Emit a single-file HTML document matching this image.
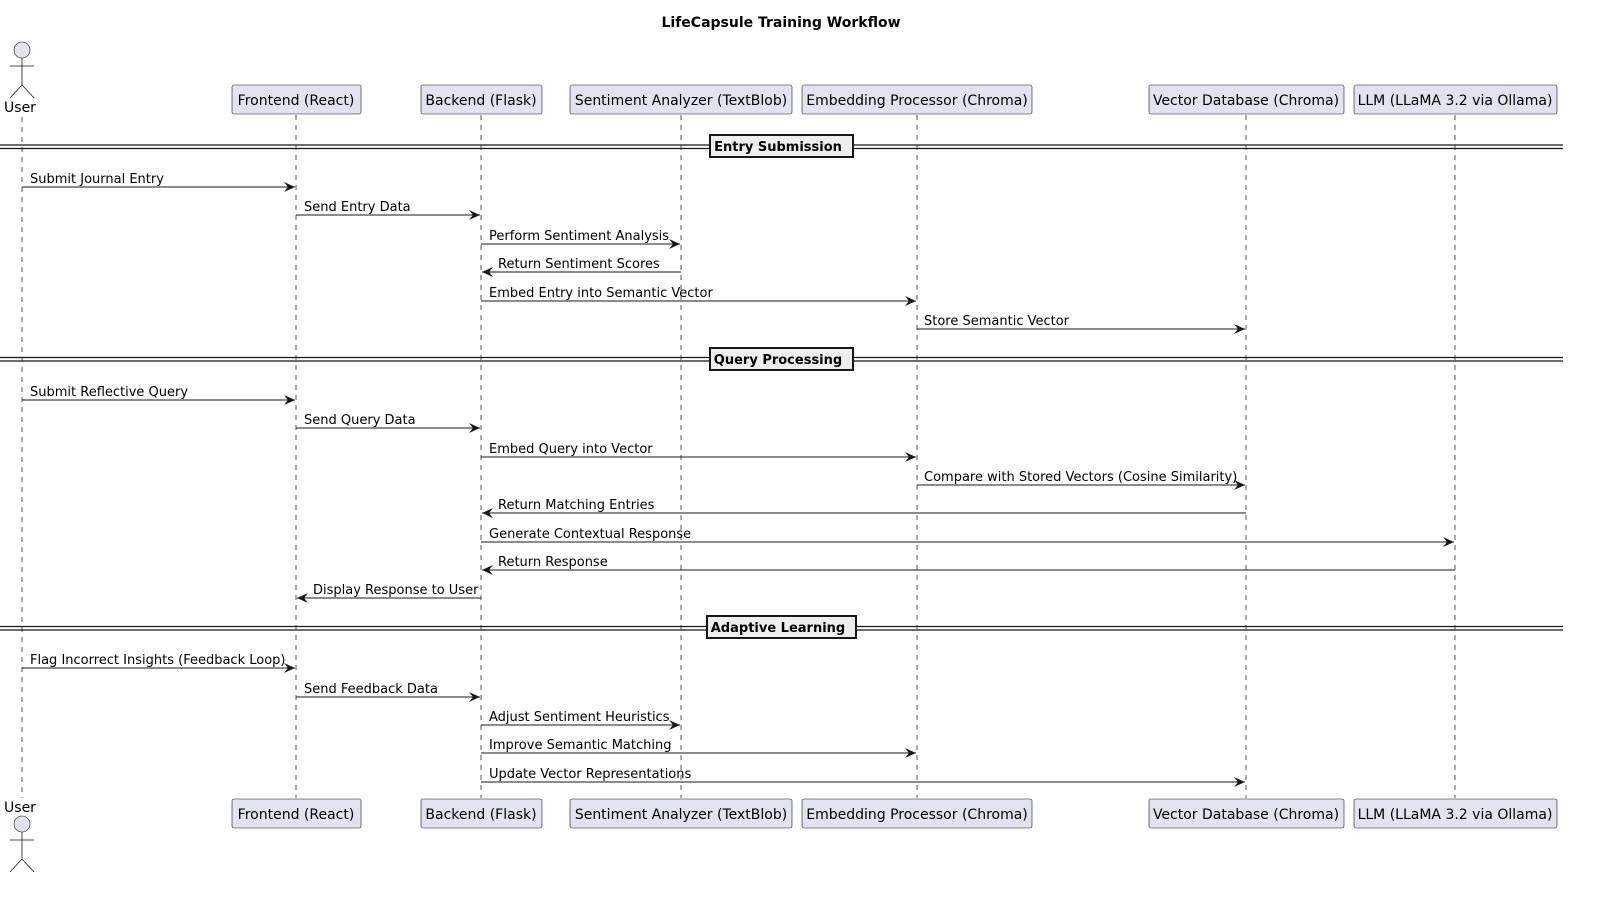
<!DOCTYPE html>
<html><head><meta charset="utf-8"><style>body{margin:0;background:#fff}svg{display:block}text{font-family:"DejaVu Sans","Liberation Sans",sans-serif}</style></head><body>
<svg width="1611" height="901" viewBox="0 0 1611 901" xmlns="http://www.w3.org/2000/svg">
<defs><marker id="a" viewBox="0 0 12 10" refX="11" refY="5" markerWidth="12" markerHeight="10" markerUnits="userSpaceOnUse" orient="auto"><path d="M0,0 L11,5 L0,10 L4,5 Z" fill="#181818"/></marker></defs>
<text x="781" y="27" text-anchor="middle" font-size="14" font-weight="bold" fill="#000">LifeCapsule Training Workflow</text>
<g stroke="#555" stroke-dasharray="5,5" stroke-width="1">
<line x1="22" y1="117" x2="22" y2="798"/><line x1="296" y1="115" x2="296" y2="798"/><line x1="481" y1="115" x2="481" y2="798"/><line x1="681" y1="115" x2="681" y2="798"/><line x1="917" y1="115" x2="917" y2="798"/><line x1="1246" y1="115" x2="1246" y2="798"/><line x1="1455" y1="115" x2="1455" y2="798"/>
</g>
<g fill="#E2E2F0" stroke="#181818" stroke-width="0.6">
<circle cx="22" cy="50" r="8"/><circle cx="22" cy="824" r="8"/>
</g>
<g stroke="#181818" stroke-width="0.8" fill="none">
<path d="M22,58 V85 M10,66 H34 M22,85 L10,98 M22,85 L34,98"/>
<path d="M22,832 V859 M10,840 H34 M22,859 L10,872 M22,859 L34,872"/>
</g>
<text x="20" y="112" font-size="14" text-anchor="middle">User</text>
<text x="20" y="812" font-size="14" text-anchor="middle">User</text>
<g font-size="14" text-anchor="middle">
<g fill="#E2E2F0" stroke="#181818" stroke-width="0.6">
<rect x="232" y="85" width="129" height="29" rx="2"/><rect x="421" y="85" width="121" height="29" rx="2"/><rect x="570" y="85" width="222" height="29" rx="2"/><rect x="802" y="85" width="230" height="29" rx="2"/><rect x="1149" y="85" width="195" height="29" rx="2"/><rect x="1354" y="85" width="203" height="29" rx="2"/>
<rect x="232" y="799" width="129" height="29" rx="2"/><rect x="421" y="799" width="121" height="29" rx="2"/><rect x="570" y="799" width="222" height="29" rx="2"/><rect x="802" y="799" width="230" height="29" rx="2"/><rect x="1149" y="799" width="195" height="29" rx="2"/><rect x="1354" y="799" width="203" height="29" rx="2"/>
</g>
<text x="296" y="105">Frontend (React)</text><text x="481" y="105">Backend (Flask)</text><text x="681" y="105">Sentiment Analyzer (TextBlob)</text><text x="917" y="105">Embedding Processor (Chroma)</text><text x="1246" y="105">Vector Database (Chroma)</text><text x="1455" y="105">LLM (LLaMA 3.2 via Ollama)</text>
<text x="296" y="819">Frontend (React)</text><text x="481" y="819">Backend (Flask)</text><text x="681" y="819">Sentiment Analyzer (TextBlob)</text><text x="917" y="819">Embedding Processor (Chroma)</text><text x="1246" y="819">Vector Database (Chroma)</text><text x="1455" y="819">LLM (LLaMA 3.2 via Ollama)</text>
</g>
<g stroke="#181818" stroke-width="1.2" fill="none">
<path d="M0,145 H1563 M0,148.5 H1563 M0,357.5 H1563 M0,361 H1563 M0,626.5 H1563 M0,630 H1563"/>
</g>
<g fill="#EEEEEE" stroke="#181818" stroke-width="2">
<rect x="710" y="135" width="143" height="22"/><rect x="710" y="348" width="143" height="22"/><rect x="707" y="616" width="149" height="22"/>
</g>
<g font-size="13" font-weight="bold" text-anchor="middle">
<text x="778" y="151">Entry Submission</text><text x="778" y="364">Query Processing</text><text x="778" y="632">Adaptive Learning</text>
</g>
<g stroke="#181818" stroke-width="1" marker-end="url(#a)">
<line x1="22" y1="187" x2="295" y2="187"/><line x1="296" y1="215" x2="480" y2="215"/><line x1="481" y1="244" x2="680" y2="244"/><line x1="681" y1="272" x2="482" y2="272"/><line x1="481" y1="301" x2="916" y2="301"/><line x1="917" y1="329" x2="1245" y2="329"/>
<line x1="22" y1="400" x2="295" y2="400"/><line x1="296" y1="428" x2="480" y2="428"/><line x1="481" y1="457" x2="916" y2="457"/><line x1="917" y1="485" x2="1245" y2="485"/><line x1="1246" y1="513" x2="482" y2="513"/><line x1="481" y1="542" x2="1454" y2="542"/><line x1="1455" y1="570" x2="482" y2="570"/><line x1="481" y1="598" x2="297" y2="598"/>
<line x1="22" y1="668" x2="295" y2="668"/><line x1="296" y1="697" x2="480" y2="697"/><line x1="481" y1="725" x2="680" y2="725"/><line x1="481" y1="753" x2="916" y2="753"/><line x1="481" y1="782" x2="1245" y2="782"/>
</g>
<g font-size="13" fill="#000">
<text x="30" y="183">Submit Journal Entry</text><text x="304" y="211">Send Entry Data</text><text x="489" y="240">Perform Sentiment Analysis</text><text x="498" y="268">Return Sentiment Scores</text><text x="489" y="297">Embed Entry into Semantic Vector</text><text x="924" y="325">Store Semantic Vector</text>
<text x="30" y="396">Submit Reflective Query</text><text x="304" y="424">Send Query Data</text><text x="489" y="453">Embed Query into Vector</text><text x="924" y="481">Compare with Stored Vectors (Cosine Similarity)</text><text x="498" y="509">Return Matching Entries</text><text x="489" y="538">Generate Contextual Response</text><text x="498" y="566">Return Response</text><text x="313" y="594">Display Response to User</text>
<text x="30" y="664">Flag Incorrect Insights (Feedback Loop)</text><text x="304" y="693">Send Feedback Data</text><text x="489" y="721">Adjust Sentiment Heuristics</text><text x="489" y="749">Improve Semantic Matching</text><text x="489" y="778">Update Vector Representations</text>
</g>
</svg>
</body></html>
